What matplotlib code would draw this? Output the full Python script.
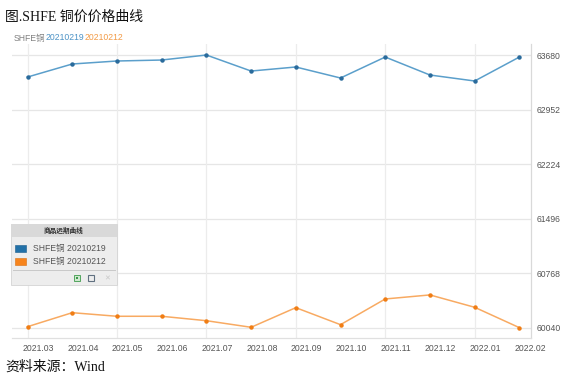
import matplotlib
matplotlib.use("Agg")
import matplotlib.pyplot as plt
from matplotlib.patches import Rectangle
from matplotlib.lines import Line2D

# ---- data ----
contracts = ["2021.03", "2021.04", "2021.05", "2021.06", "2021.07", "2021.08",
             "2021.09", "2021.10", "2021.11", "2021.12", "2022.01", "2022.02"]
series_0219 = [63386, 63560, 63600, 63613, 63680, 63466, 63520, 63373, 63653, 63413, 63333, 63653]
series_0212 = [60053, 60240, 60192, 60192, 60133, 60045, 60307, 60080, 60423, 60477, 60312, 60040]
ytick_vals = [60040, 60768, 61496, 62224, 62952, 63680]
name_0219 = "SHFE铜 20210219"
name_0212 = "SHFE铜 20210212"

W, H = 573, 379
fig = plt.figure(figsize=(W / 100, H / 100), dpi=100)
fig.patch.set_facecolor("white")

CJK = ["Noto Sans CJK SC", "DejaVu Sans"]
SERIF = ["Liberation Serif", "Noto Sans CJK SC"]
TICKF = ["Liberation Sans", "Noto Sans CJK SC"]

def fx(px):
    return px / W

def fy(py):
    return 1 - py / H

left, right, top, bottom = 12, 531, 44, 338
ax = fig.add_axes([fx(left), fy(bottom), fx(right - left), (bottom - top) / H])
ax.set_facecolor("white")

x = list(range(len(contracts)))
blue_line = "#5b9fcb"
blue_mark = "#2a6b9c"
orange_line = "#f8aa62"
orange_mark = "#f07d14"

ax.plot(x, series_0219, color=blue_line, lw=1.1, zorder=3)
ax.plot(x, series_0219, ls="none", marker="o", ms=2.2, color=blue_mark, zorder=4)
ax.plot(x, series_0212, color=orange_line, lw=1.1, zorder=3)
ax.plot(x, series_0212, ls="none", marker="o", ms=2.2, color=orange_mark, zorder=4)

ax.set_xlim(-0.347, 11.26)
ax.set_ylim(59902, 63827)

# grid
for v in ytick_vals:
    ax.axhline(v, color="#e6e6e6", lw=0.9, zorder=1)
for i in x[::2]:
    ax.axvline(i, color="#ececec", lw=0.9, zorder=1)

ax.yaxis.tick_right()
ax.set_yticks(ytick_vals)
ax.set_yticklabels([str(v) for v in ytick_vals], fontsize=6.2, color="#555555",
                   family=TICKF)
ax.tick_params(axis="y", length=0, pad=4)
ax.set_xticks([i + 0.24 for i in x])
ax.set_xticklabels(contracts, fontsize=6.2, color="#555555", family=TICKF)
ax.tick_params(axis="x", length=0, pad=4)

for s in ["top", "left"]:
    ax.spines[s].set_visible(False)
ax.spines["right"].set_color("#d9d9d9")
ax.spines["right"].set_linewidth(0.9)
ax.spines["bottom"].set_color("#e0e0e0")
ax.spines["bottom"].set_linewidth(0.9)

# title and source
fig.text(fx(5), fy(17), "图.SHFE 铜价价格曲线", fontsize=10, family=SERIF,
         va="center", ha="left", color="#111111")
fig.text(fx(5), fy(367), "资料来源：Wind", fontsize=10, family=SERIF,
         va="center", ha="left", color="#111111")

# subtitle with coloured parts
fig.canvas.draw()
renderer = fig.canvas.get_renderer()
parts = [("SHFE铜", "#808080"), ("20210219", "#4d93c6"), ("20210212", "#f29a45")]
cur = 14
for txt, col in parts:
    t = fig.text(fx(cur), fy(38), txt, fontsize=6.2, family=TICKF, color=col,
                 va="center", ha="left")
    bb = t.get_window_extent(renderer=renderer)
    cur += bb.width

# legend panel (figure pixel coordinates)
def rect(x0, y0, x1, y1, **kw):
    r = Rectangle((fx(x0), fy(y1)), fx(x1 - x0), (y1 - y0) / H,
                  transform=fig.transFigure, **kw)
    fig.add_artist(r)
    return r

rect(11, 224, 117, 285, facecolor="#ededed", edgecolor="#d4d4d4", lw=0.6, zorder=10)
rect(11, 224, 117, 237, facecolor="#d9d9d9", edgecolor="none", zorder=11)
fig.text(fx(64), fy(230.5), "商品远期曲线", fontsize=4.8, family=CJK, color="#333333",
         ha="center", va="center", weight="bold", zorder=12)
rect(15, 245, 26, 252, facecolor="#2271a8", edgecolor="#1a5c8c", lw=0.4, zorder=12)
rect(15, 258, 26, 265, facecolor="#f7841c", edgecolor="#d96f10", lw=0.4, zorder=12)
fig.text(fx(33), fy(248.5), name_0219, fontsize=6.2, family=TICKF, color="#555555",
         ha="left", va="center", zorder=12)
fig.text(fx(33), fy(261.5), name_0212, fontsize=6.2, family=TICKF, color="#555555",
         ha="left", va="center", zorder=12)
fig.add_artist(Line2D([fx(13), fx(115)], [fy(269.5), fy(269.5)], transform=fig.transFigure,
                      color="#c8c8c8", lw=0.7, zorder=12))
rect(74, 275, 80, 281, facecolor="#cfe8cf", edgecolor="#3d9a4a", lw=0.6, zorder=12)
rect(76, 277, 78, 279, facecolor="#3d9a4a", edgecolor="none", zorder=13)
rect(88, 275, 94, 281, facecolor="none", edgecolor="#607080", lw=0.8, zorder=12)
fig.text(fx(107), fy(278), "✕", fontsize=5, color="#c8c8c8", ha="center", va="center",
         zorder=12)

fig.savefig("out.png", dpi=100, facecolor="white")
